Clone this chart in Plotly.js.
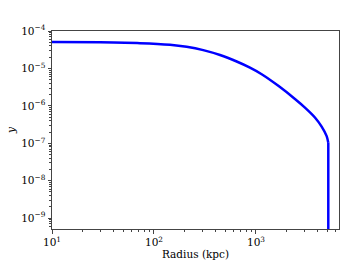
<!DOCTYPE html>
<html><head><meta charset="utf-8">
<script src="https://cdn.plot.ly/plotly-3.0.1.min.js"></script>
<style>html,body{margin:0;padding:0;background:#fff;}#c{width:349px;height:262px;}</style>
</head><body><div id="c"></div>
<script>
const radius = [10, 29.6, 72.9, 143.5, 209, 304, 444, 647, 873, 1137, 1656, 2411, 3020, 3784, 4404, 4932, 5117, 5117];
const yvals = [5.07e-5, 4.97e-5, 4.74e-5, 4.29e-5, 3.78e-5, 3.08e-5, 2.28e-5, 1.53e-5, 1.05e-5, 7.0e-6, 3.43e-6, 1.53e-6, 9.0e-7, 4.9e-7, 2.79e-7, 1.55e-7, 1.04e-7, 1e-12];
const xTickVals = [10, 100, 1000];
const xTickText = ['10<sup>1</sup>', '10<sup>2</sup>', '10<sup>3</sup>'];
const yTickVals = [1e-9, 1e-8, 1e-7, 1e-6, 1e-5, 1e-4];
const yTickText = ['10<sup>\u22129</sup>', '10<sup>\u22128</sup>', '10<sup>\u22127</sup>', '10<sup>\u22126</sup>', '10<sup>\u22125</sup>', '10<sup>\u22124</sup>'];

function minorVals(lo, hi) {
  const out = [];
  for (let e = lo; e <= hi; e++) for (let m = 2; m <= 9; m++) out.push(m * Math.pow(10, e));
  return out;
}
const font = {family: 'DejaVu Serif', size: 10.5, color: '#000'};
const titleFont = {family: 'DejaVu Serif', size: 10.5, color: '#000'};
const ax = {
  type: 'log', showline: true, mirror: true, linecolor: '#444', linewidth: 1,
  ticks: 'outside', ticklen: 3.5, tickcolor: '#444', showgrid: false, zeroline: false,
  tickmode: 'array', tickfont: font
};
const n = radius.length;
const lineStyle = {color: '#0000ff', width: 2.5};
Plotly.newPlot('c', [
  {x: radius.slice(0, n - 1), y: yvals.slice(0, n - 1), mode: 'lines', line: Object.assign({shape: 'spline', smoothing: 0.8}, lineStyle)},
  {x: radius.slice(n - 2), y: yvals.slice(n - 2), mode: 'lines', line: lineStyle}
], {
  width: 349, height: 262,
  margin: {l: 52, r: 10, t: 31, b: 33},
  paper_bgcolor: '#fff', plot_bgcolor: '#fff', showlegend: false,
  xaxis: Object.assign({}, ax, {range: [1, 3.814], tickvals: xTickVals, ticktext: xTickText,
    minor: {tickmode: 'array', tickvals: minorVals(1, 3), ticks: 'outside', ticklen: 2, tickcolor: '#444', showgrid: false},
    title: {text: 'Radius (kpc)', font: titleFont, standoff: 3}}),
  yaxis: Object.assign({}, ax, {range: [-9.29, -4], tickvals: yTickVals, ticktext: yTickText,
    minor: {tickmode: 'array', tickvals: minorVals(-10, -5), ticks: 'outside', ticklen: 2, tickcolor: '#444', showgrid: false},
    title: {text: '<i>y</i>', font: titleFont, standoff: 3}})
}, {displayModeBar: false, staticPlot: true});
</script></body></html>
